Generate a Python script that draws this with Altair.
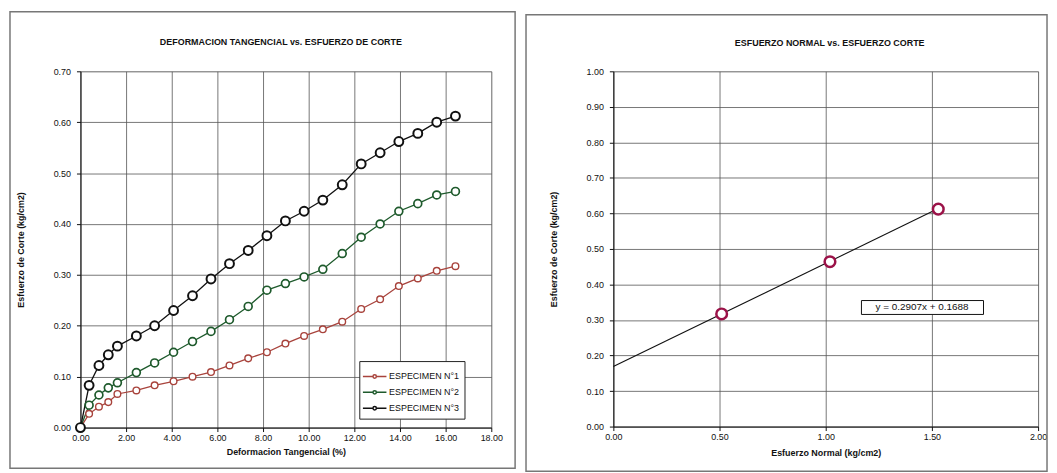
import altair as alt
import pandas as pd

# ---------------- data ----------------
deformacion = [0.00, 0.38, 0.81, 1.22, 1.62, 2.45, 3.25, 4.08, 4.91, 5.72, 6.53, 7.35,
               8.17, 8.98, 9.80, 10.62, 11.47, 12.30, 13.13, 13.95, 14.78, 15.61, 16.43]
especimen1 = [0.000, 0.027, 0.041, 0.050, 0.066, 0.073, 0.083, 0.091, 0.100, 0.109, 0.122, 0.136,
              0.148, 0.165, 0.180, 0.193, 0.208, 0.233, 0.252, 0.278, 0.293, 0.308, 0.317]
especimen2 = [0.000, 0.044, 0.064, 0.078, 0.088, 0.108, 0.127, 0.148, 0.169, 0.189, 0.212, 0.238,
              0.270, 0.283, 0.296, 0.311, 0.342, 0.374, 0.400, 0.425, 0.440, 0.457, 0.464]
especimen3 = [0.000, 0.083, 0.122, 0.143, 0.160, 0.180, 0.200, 0.230, 0.259, 0.292, 0.322, 0.348,
              0.377, 0.406, 0.425, 0.447, 0.477, 0.518, 0.540, 0.562, 0.578, 0.600, 0.612]
series_names = ["ESPECIMEN N°1", "ESPECIMEN N°2", "ESPECIMEN N°3"]
series_colors = ["#a8433c", "#1e5a2c", "#111111"]

esfuerzo_normal = [0.51, 1.02, 1.53]
esfuerzo_corte = [0.317, 0.464, 0.612]
pendiente = 0.2907
intercepto = 0.1688
trend_x = [0.0, 1.53]
ecuacion = "y = 0.2907x + 0.1688"

FONT = "Liberation Sans"

rows = []
for name, vals in zip(series_names, [especimen1, especimen2, especimen3]):
    for x, y in zip(deformacion, vals):
        rows.append({"def": x, "corte": y, "serie": name})
df_left = pd.DataFrame(rows)

df_pts = pd.DataFrame({"normal": esfuerzo_normal, "corte": esfuerzo_corte})
df_trend = pd.DataFrame({"normal": trend_x,
                         "corte": [pendiente * v + intercepto for v in trend_x]})
one = pd.DataFrame({"a": [0]})

axis_common = dict(labelFont=FONT, labelFontSize=9, labelColor="#111",
                   titleFont=FONT, titleFontSize=9, titleFontWeight="bold", titleColor="#111",
                   gridColor="#555", gridWidth=0.8, domainColor="#111", tickColor="#111",
                   tickSize=4, format=".2f", labelFlush=False)

# ---------------- left chart ----------------
LW, LH = 414, 359
xL = alt.X("def:Q", scale=alt.Scale(domain=[0, 18], nice=False),
           axis=alt.Axis(title="Deformacion Tangencial (%)", values=list(range(0, 19, 2)),
                         labelPadding=2, titlePadding=5, **axis_common))
yL = alt.Y("corte:Q", scale=alt.Scale(domain=[0, 0.7], nice=False),
           axis=alt.Axis(title="Esfuerzo de Corte (kg/cm2)", values=[i / 10 for i in range(8)],
                         labelPadding=6, titlePadding=28, **axis_common))
legend_def = alt.Legend(
    title=None, orient="none", legendX=281, legendY=292,
    strokeColor="#222", fillColor="white", padding=5,
    labelFont=FONT, labelFontSize=9, labelColor="#111",
    symbolType="M-1.25,0L-0.18,0M0.18,0L1.25,0M-0.18,0A0.18,0.18,0,1,1,0.18,0A0.18,0.18,0,1,1,-0.18,0",
    symbolSize=360, symbolStrokeWidth=1.5, symbolFillColor="white", rowPadding=0, labelOffset=4)
cscale = alt.Scale(domain=series_names, range=series_colors)

lines = alt.Chart(df_left).mark_line(strokeWidth=1.3).encode(
    x=xL, y=yL, color=alt.Color("serie:N", scale=cscale, legend=legend_def))
points = alt.Chart(df_left).mark_point(filled=False, fill="white", opacity=1).encode(
    x=xL, y=yL, color=alt.Color("serie:N", scale=cscale, legend=None),
    size=alt.Size("serie:N", scale=alt.Scale(domain=series_names, range=[45, 80, 95]), legend=None),
    strokeWidth=alt.StrokeWidth("serie:N", scale=alt.Scale(domain=series_names, range=[1.4, 2, 2.2]),
                                legend=None),
)
frameL = alt.Chart(one).mark_rect(fillOpacity=0, stroke="#777", strokeWidth=1.5).encode(
    x=alt.value(-71), x2=alt.value(438), y=alt.value(-60), y2=alt.value(400))
titleL = alt.Chart(one).mark_text(font=FONT, fontSize=9, fontWeight="bold", color="#111").encode(
    x=alt.value(202), y=alt.value(-30), text=alt.value("DEFORMACION TANGENCIAL vs. ESFUERZO DE CORTE"))

left = alt.layer(frameL, lines, points, titleL).resolve_legend(
    color="independent").properties(width=LW, height=LH)

# ---------------- right chart ----------------
RW, RH = 428, 358
xR = alt.X("normal:Q", scale=alt.Scale(domain=[0, 2], nice=False),
           axis=alt.Axis(title="Esfuerzo Normal (kg/cm2)", values=[0, 0.5, 1, 1.5, 2],
                         labelPadding=2, titlePadding=7, **axis_common))
yR = alt.Y("corte:Q", scale=alt.Scale(domain=[0, 1], nice=False),
           axis=alt.Axis(title="Esfuerzo de Corte (kg/cm2)", values=[i / 10 for i in range(11)],
                         labelPadding=6, titlePadding=28, **axis_common))

trend = alt.Chart(df_trend).mark_line(color="#111", strokeWidth=1.1).encode(x=xR, y=yR)
pts = alt.Chart(df_pts).mark_point(filled=False, fill="white", opacity=1, color="#9b1248",
                                   size=115, strokeWidth=2.5).encode(x=xR, y=yR)
eq_box = alt.Chart(one).mark_rect(fill="white", stroke="#111", strokeWidth=1).encode(
    x=alt.value(250), x2=alt.value(373), y=alt.value(231), y2=alt.value(245))
eq_text = alt.Chart(one).mark_text(font=FONT, fontSize=10, color="#111").encode(
    x=alt.value(311), y=alt.value(238), text=alt.value(ecuacion))
frameR = alt.Chart(one).mark_rect(fillOpacity=0, stroke="#777", strokeWidth=1.5).encode(
    x=alt.value(-88), x2=alt.value(437), y=alt.value(-57), y2=alt.value(403))
titleR = alt.Chart(one).mark_text(font=FONT, fontSize=9, fontWeight="bold", color="#111").encode(
    x=alt.value(218), y=alt.value(-28), text=alt.value("ESFUERZO NORMAL vs. ESFUERZO CORTE"))

right = alt.layer(frameR, trend, pts, eq_box, eq_text, titleR).properties(width=RW, height=RH)

chart = alt.hconcat(left, right, spacing=7).properties(padding=0).configure_view(
    stroke="#111", strokeWidth=1).configure(background="white")

chart.save("out.html", embed_options={"renderer": "svg", "actions": False})
